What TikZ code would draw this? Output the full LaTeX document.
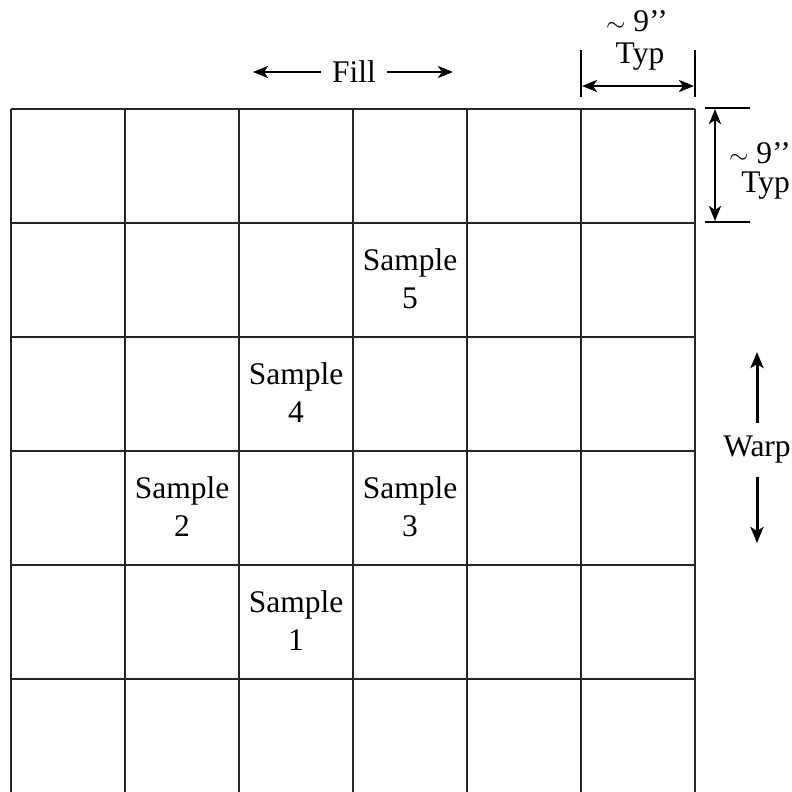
\documentclass[tikz,border=0pt]{standalone}
\usepackage{fontspec}
\setmainfont{Liberation Serif}
\usetikzlibrary{arrows.meta}
\begin{document}
\begin{tikzpicture}[x=1pt,y=-1pt,
  gridline/.style={line width=1.7pt,black!85},
  dimline/.style={line width=2.4pt},
  tip/.style={Stealth[length=15pt,width=12pt,inset=4pt]},
  dimarrow/.style={line width=2.4pt,{Stealth[length=15pt,width=12pt,inset=4pt]}-{Stealth[length=15pt,width=12pt,inset=4pt]}},
  onearrow/.style={line width=3pt,-{Stealth[length=16pt,width=13pt,inset=4pt]}},
  lbl/.style={font=\fontsize{31.5}{38}\selectfont,align=center,inner sep=0pt}]
\useasboundingbox (0,0) rectangle (792,792);
% grid
\foreach \x in {11,125,239,353,467,581,695} \draw[gridline] (\x,109) -- (\x,792);
\foreach \y in {109,223,337,451,565,679} \draw[gridline] (11,\y) -- (695,\y);
% samples
\node[lbl] (s5) at (410,279) {Sample\\5};
\node[lbl] (s4) at (296,393) {Sample\\4};
\node[lbl] (s2) at (182,507) {Sample\\2};
\node[lbl] (s3) at (410,507) {Sample\\3};
\node[lbl] (s1) at (296,621) {Sample\\1};
% top dimension
\coordinate (tl1) at (581,50); \coordinate (tl2) at (581,97);
\coordinate (tr1) at (695,50); \coordinate (tr2) at (695,97);
\draw[dimline] (tl1) -- (tl2);
\draw[dimline] (tr1) -- (tr2);
\coordinate (ta) at (582,86); \coordinate (tb) at (694,86);
\draw[dimarrow] (ta) -- (tb);
\node[lbl] (t9) at (637,21) {$\sim$ 9’’};
\node[lbl] (ttyp) at (640,57) {Typ};
% right dimension
\coordinate (ra1) at (705,108); \coordinate (ra2) at (750,108);
\coordinate (rb1) at (705,222); \coordinate (rb2) at (750,222);
\draw[dimline] (ra1) -- (ra2);
\draw[dimline] (rb1) -- (rb2);
\coordinate (rp) at (715,109); \coordinate (rq) at (715,221);
\draw[dimarrow] (rp) -- (rq);
\node[lbl,anchor=east] (r9) at (791,153) {$\sim$ 9’’};
\node[lbl,anchor=east] (rtyp) at (790,186) {Typ};
% fill
\node[lbl] (fill) at (354,72) {Fill};
\coordinate (fl) at (253,72); \coordinate (fr) at (453,72);
\draw[line width=2.6pt,-{Stealth[length=15pt,width=12pt,inset=4pt]}] (fill.west) ++(-11,0) -- (fl);
\draw[line width=2.6pt,-{Stealth[length=15pt,width=12pt,inset=4pt]}] (fill.east) ++(11,0) -- (fr);
% warp
\node[lbl] (warp) at (757,450) {Warp};
\coordinate (wu) at (757,352); \coordinate (wd) at (757,543);
\draw[onearrow] (warp.north) ++(0,-13) -- (wu);
\draw[onearrow] (warp.south) ++(0,13) -- (wd);
\end{tikzpicture}
\end{document}
